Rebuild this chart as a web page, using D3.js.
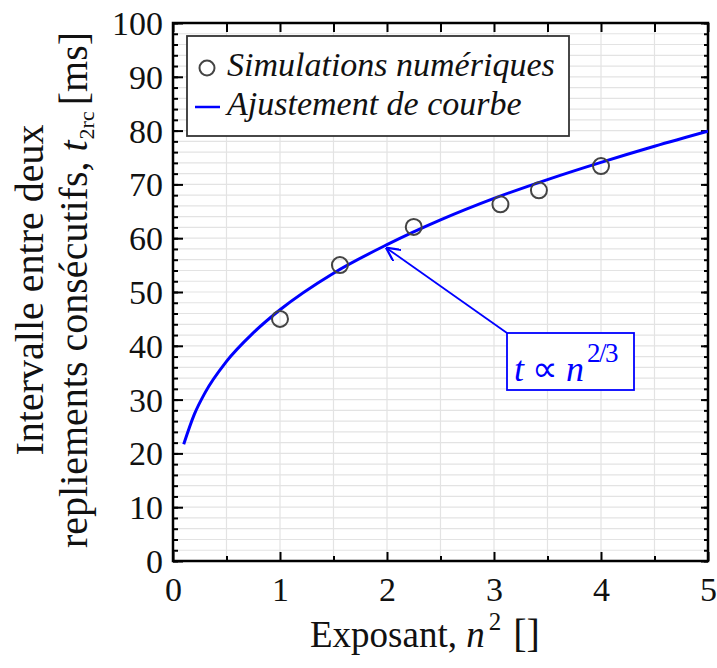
<!DOCTYPE html>
<html><head><meta charset="utf-8">
<script src="https://cdn.jsdelivr.net/npm/d3@7"></script>
<style>body{margin:0;background:#fff}svg{display:block}text{font-family:"Liberation Serif","Times New Roman",serif}</style>
</head><body>
<svg id="c" width="717" height="668"></svg>
<script>
// Data
const simX = [1, 1.56, 2.25, 3.06, 3.42, 4];
const simY = [45.0, 55.0, 62.1, 66.3, 68.9, 73.4];
const fitX = [0.1, 0.2, 0.3, 0.5, 0.75, 1, 1.5, 2, 2.5, 3, 3.5, 4, 4.5, 5];
const fitY = [21.7, 27.3, 31.3, 37.1, 42.4, 46.7, 53.5, 58.8, 63.4, 67.4, 70.9, 74.1, 77.1, 79.9];
const xTicks = [0, 1, 2, 3, 4, 5];
const yTicks = [0, 10, 20, 30, 40, 50, 60, 70, 80, 90, 100];
const legendLabels = ["Simulations numériques", "Ajustement de courbe"];

const svg = d3.select("#c");
const L = 173, R = 708, T = 23, B = 561;
const x = d3.scaleLinear().domain([0, 5]).range([L, R]);
const y = d3.scaleLinear().domain([0, 100]).range([B, T]);
const blue = "#0000ff";

// grid
const g = svg.append("g");
g.selectAll("line.vx").data(d3.range(0.5, 5, 0.5)).join("line")
  .attr("x1", d => x(d)).attr("x2", d => x(d)).attr("y1", T).attr("y2", B)
  .attr("stroke", "#e3e3e3").attr("stroke-width", 1.2);
g.selectAll("line.hy").data(d3.range(2, 100, 2)).join("line")
  .attr("y1", d => y(d)).attr("y2", d => y(d)).attr("x1", L).attr("x2", R)
  .attr("stroke", "#e3e3e3").attr("stroke-width", 1.2);

// axes with inward ticks
function ax(axisFn, scale, vals, size, tr, fmt) {
  const a = axisFn(scale).tickValues(vals).tickSize(size).tickSizeOuter(0);
  if (fmt) a.tickFormat(fmt); else a.tickFormat("");
  const s = svg.append("g").attr("transform", tr).call(a);
  s.attr("font-family", null);
  s.select(".domain").remove();
  s.selectAll(".tick line").attr("stroke", "#000").attr("stroke-width", 2);
  return s;
}
// bottom
ax(d3.axisTop, x, d3.range(0.5, 5, 1), 5, `translate(0,${B})`);
const bx = ax(d3.axisTop, x, xTicks, 9, `translate(0,${B})`, d3.format("d"));
bx.selectAll(".tick text").attr("y", 40).attr("dy", 0).attr("font-size", 34).attr("fill", "#111");
// top
ax(d3.axisBottom, x, d3.range(0, 5.01, 0.5), 9, `translate(0,${T})`);
// left
ax(d3.axisRight, y, d3.range(0, 101, 2), 5, `translate(${L},0)`);
const ly = ax(d3.axisRight, y, yTicks, 10, `translate(${L},0)`, d3.format("d"));
ly.selectAll(".tick text").attr("x", -10).attr("text-anchor", "end").attr("dy", "0.34em")
  .attr("font-size", 34).attr("fill", "#111");
// right
ax(d3.axisLeft, y, d3.range(0, 101, 2), 4, `translate(${R},0)`);
ax(d3.axisLeft, y, yTicks, 7, `translate(${R},0)`);

// frame
svg.append("rect").attr("x", L).attr("y", T).attr("width", R - L).attr("height", B - T)
  .attr("fill", "none").attr("stroke", "#000").attr("stroke-width", 2.5);

// fit curve
svg.append("clipPath").attr("id", "cp").append("rect").attr("x", L).attr("y", T).attr("width", R - L).attr("height", B - T);
const fit = fitX.map((v, i) => [v, fitY[i]]);
svg.append("path").datum(fit).attr("clip-path", "url(#cp)")
  .attr("d", d3.line().x(d => x(d[0])).y(d => y(d[1])).curve(d3.curveMonotoneX))
  .attr("fill", "none").attr("stroke", blue).attr("stroke-width", 3);

// simulation points
svg.selectAll("circle.s").data(simX.map((v, i) => [v, simY[i]])).join("circle")
  .attr("cx", d => x(d[0])).attr("cy", d => y(d[1])).attr("r", 8)
  .attr("fill", "none").attr("stroke", "#444").attr("stroke-width", 2);

// legend
const lg = svg.append("g");
lg.append("rect").attr("x", 187).attr("y", 36).attr("width", 382).attr("height", 100)
  .attr("fill", "#fff").attr("stroke", "#333").attr("stroke-width", 1.8);
lg.append("circle").attr("cx", 207).attr("cy", 68).attr("r", 7.5).attr("fill", "none").attr("stroke", "#444").attr("stroke-width", 2);
lg.append("line").attr("x1", 195).attr("x2", 220).attr("y1", 107).attr("y2", 107).attr("stroke", blue).attr("stroke-width", 2.5);
lg.selectAll("text").data(legendLabels).join("text")
  .attr("x", 227).attr("y", (d, i) => 76 + i * 39)
  .attr("font-size", 34).attr("font-style", "italic").attr("fill", "#111").text(d => d);

// annotation
const defs = svg.append("defs");
defs.append("marker").attr("id", "ah").attr("viewBox", "0 0 10 10").attr("refX", 10).attr("refY", 5)
  .attr("markerWidth", 14).attr("markerHeight", 14).attr("markerUnits", "userSpaceOnUse").attr("orient", "auto")
  .append("path").attr("d", "M0,0 L10,5 L0,10").attr("fill", "none").attr("stroke", blue).attr("stroke-width", 1.6);
const tipX = 2, tipY = fitY[fitX.indexOf(2)];
svg.append("line").attr("x1", 507).attr("y1", 333).attr("x2", x(tipX) - 1).attr("y2", y(tipY) + 3)
  .attr("stroke", blue).attr("stroke-width", 1.8).attr("marker-end", "url(#ah)");
svg.append("rect").attr("x", 507).attr("y", 333).attr("width", 127).attr("height", 57)
  .attr("fill", "#fff").attr("stroke", blue).attr("stroke-width", 1.8);
const at = svg.append("text").attr("x", 514).attr("y", 381).attr("fill", blue).attr("font-size", 36).attr("font-style", "italic");
at.append("tspan").text("t");
at.append("tspan").attr("font-style", "normal").attr("dx", 8).text("∝");
at.append("tspan").attr("dx", 8).text("n");
at.append("tspan").attr("font-style", "normal").attr("font-size", 27).attr("letter-spacing", -1.5).attr("dy", -19).attr("dx", 3).text("2/3");

// axis titles
const xt = svg.append("text").attr("x", 310).attr("y", 647).attr("font-size", 37).attr("fill", "#111");
xt.append("tspan").text("Exposant, ");
xt.append("tspan").attr("font-style", "italic").text("n");
xt.append("tspan").attr("font-size", 25).attr("dy", -17).attr("dx", 4).text("2");
xt.append("tspan").attr("dy", 17).attr("dx", 12).attr("font-size", 40).text("[]");

const yt = svg.append("g").attr("transform", "rotate(-90)");
yt.append("text").attr("x", -290).attr("y", 43).attr("text-anchor", "middle").attr("font-size", 40).attr("fill", "#111").text("Intervalle entre deux");
const y2 = yt.append("text").attr("x", -290).attr("y", 87).attr("text-anchor", "middle").attr("font-size", 40).attr("fill", "#111");
y2.append("tspan").text("repliements consécutifs, ");
y2.append("tspan").attr("font-style", "italic").text("t");
y2.append("tspan").attr("font-size", 22).attr("dy", 7).attr("dx", 1).text("2rc");
y2.append("tspan").attr("dy", -7).attr("dx", 6).text("[ms]");
</script>
</body></html>
